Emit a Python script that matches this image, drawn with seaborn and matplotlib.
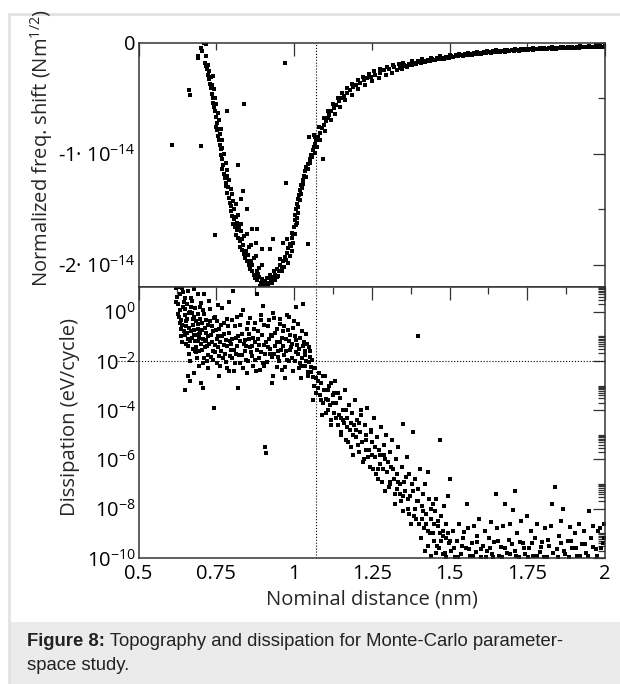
import numpy as np
import pandas as pd
import matplotlib
matplotlib.use("Agg")
import matplotlib.pyplot as plt
import matplotlib.ticker as mticker
from matplotlib.patches import Rectangle
from matplotlib.lines import Line2D
import seaborn as sns

# ---- верхняя панель: сдвиг частоты (в единицах 1e-14 Nm^1/2) ----
dip_x = [0.712, 0.716, 0.700, 0.690, 0.692, 0.714, 0.716, 0.720, 0.724, 0.728, 0.733, 0.738,
         0.730, 0.732, 0.736, 0.738, 0.740, 0.742, 0.745, 0.746, 0.748, 0.752, 0.750, 0.754,
         0.760, 0.766, 0.756, 0.758, 0.762, 0.764, 0.770, 0.766, 0.768, 0.772, 0.770, 0.776,
         0.778, 0.784, 0.780, 0.782, 0.788, 0.796, 0.786, 0.790, 0.794, 0.798, 0.804, 0.812,
         0.796, 0.800, 0.806, 0.812, 0.820, 0.804, 0.810, 0.816, 0.824, 0.830, 0.814, 0.820,
         0.826, 0.834, 0.840, 0.848, 0.826, 0.832, 0.838, 0.846, 0.854, 0.862, 0.842, 0.848,
         0.854, 0.862, 0.870, 0.878, 0.858, 0.866, 0.872, 0.880, 0.888, 0.896, 0.876, 0.882,
         0.888, 0.894, 0.898, 0.904, 0.908, 0.914, 0.918, 0.922, 0.926, 0.932, 0.936, 0.940,
         0.946, 0.952, 0.956, 0.960, 0.966, 0.970, 0.974, 0.978, 0.982, 0.986, 0.990, 0.994,
         0.997, 1.000, 1.002, 1.004, 1.008, 1.010, 1.013, 1.016, 1.020, 1.024, 1.028, 1.032,
         1.036, 1.040, 1.046, 1.050, 1.055, 1.060, 1.064, 1.068, 1.072, 1.078, 1.084, 1.090,
         1.096, 1.102, 1.108, 1.114, 1.120, 1.128, 1.136, 1.144, 1.152, 1.160, 1.170, 1.180,
         1.190, 1.200, 1.212, 1.224, 1.236, 1.248, 1.262, 1.276, 1.290, 1.305, 1.320,
         1.066, 1.080, 1.095, 1.110, 1.125, 1.140, 1.155, 1.170, 1.188, 1.205, 1.222, 1.240,
         1.258, 1.278, 1.298, 1.318, 1.338,
         0.705, 0.718, 0.722, 0.728, 0.735, 0.742, 0.748, 0.755, 0.760, 0.762, 0.770, 0.774,
         0.780, 0.786, 0.792, 0.800, 0.808, 0.818, 0.828, 0.836, 0.852, 0.866, 0.884, 0.892,
         0.900, 0.910, 0.916, 0.928, 0.938, 0.944, 0.950, 0.962, 0.968, 0.980, 0.988, 0.992,
         0.998, 1.004, 1.006, 1.010, 1.014, 1.018, 1.022, 1.026, 1.030, 1.038, 1.044, 1.052,
         1.058, 1.066, 1.074, 1.082, 1.100, 1.118, 1.132, 1.148, 1.165, 1.185, 1.205, 1.228,
         1.250, 1.272, 1.295, 1.315, 1.330]
dip_y = [0.00, -0.01, -0.05, -0.12, -0.14, -0.18, -0.21, -0.24, -0.29, -0.33, -0.31, -0.30,
         -0.37, -0.41, -0.46, -0.50, -0.54, -0.58, -0.50, -0.62, -0.67, -0.72, -0.76, -0.79,
         -0.78, -0.78, -0.84, -0.88, -0.92, -0.96, -0.95, -1.01, -1.05, -1.10, -1.14, -1.18,
         -1.22, -1.20, -1.26, -1.29, -1.30, -1.32, -1.35, -1.40, -1.44, -1.47, -1.43, -1.45,
         -1.52, -1.56, -1.59, -1.57, -1.55, -1.63, -1.66, -1.69, -1.66, -1.63, -1.73, -1.76,
         -1.79, -1.77, -1.74, -1.72, -1.84, -1.87, -1.90, -1.88, -1.84, -1.82, -1.94, -1.97,
         -2.00, -1.97, -1.94, -1.92, -2.04, -2.06, -2.09, -2.06, -2.03, -2.00, -2.12, -2.14,
         -2.11, -2.16, -2.13, -2.18, -2.15, -2.12, -2.16, -2.09, -2.13, -2.11, -2.06, -2.09,
         -2.04, -2.06, -2.00, -2.03, -1.97, -1.93, -1.96, -1.89, -1.85, -1.81, -1.83, -1.76,
         -1.72, -1.66, -1.60, -1.55, -1.50, -1.45, -1.41, -1.37, -1.33, -1.28, -1.24, -1.20,
         -1.16, -1.12, -1.09, -1.05, -1.01, -0.97, -0.94, -0.91, -0.88, -0.85, -0.81, -0.77,
         -0.74, -0.71, -0.68, -0.65, -0.62, -0.59, -0.56, -0.53, -0.50, -0.48, -0.45, -0.43,
         -0.40, -0.38, -0.36, -0.34, -0.32, -0.31, -0.29, -0.27, -0.25, -0.24, -0.22,
         -0.85, -0.76, -0.68, -0.62, -0.55, -0.50, -0.45, -0.41, -0.37, -0.34, -0.31, -0.28,
         -0.26, -0.24, -0.22, -0.20, -0.19,
         -0.08, -0.12, -0.20, -0.26, -0.38, -0.42, -0.55, -0.63, -0.70, -0.82, -0.88, -1.00,
         -1.08, -1.15, -1.24, -1.36, -1.50, -1.62, -1.70, -1.82, -1.91, -2.00, -2.08, -2.19,
         -2.20, -2.18, -2.19, -2.16, -2.14, -2.11, -2.10, -2.06, -2.02, -1.98, -1.92, -1.88,
         -1.80, -1.72, -1.64, -1.58, -1.48, -1.42, -1.36, -1.31, -1.27, -1.21, -1.14, -1.08,
         -1.03, -0.99, -0.94, -0.88, -0.80, -0.70, -0.64, -0.58, -0.52, -0.47, -0.42, -0.38,
         -0.35, -0.32, -0.29, -0.27, -0.25]

tail_x = [1.340, 1.355, 1.370, 1.385, 1.400, 1.415, 1.430, 1.445, 1.460, 1.475, 1.490, 1.505,
          1.520, 1.535, 1.550, 1.565, 1.580, 1.595, 1.610, 1.625, 1.640, 1.655, 1.670, 1.685,
          1.700, 1.715, 1.730, 1.745, 1.760, 1.775, 1.790, 1.805, 1.820, 1.835, 1.850, 1.865,
          1.880, 1.895, 1.910, 1.925, 1.940, 1.955, 1.970, 1.985, 2.000,
          1.348, 1.362, 1.378, 1.392, 1.408, 1.422, 1.438, 1.452, 1.468, 1.482, 1.498, 1.512,
          1.528, 1.542, 1.558, 1.572, 1.588, 1.602, 1.618, 1.632, 1.648, 1.662, 1.678, 1.692,
          1.708, 1.722, 1.738, 1.752, 1.768, 1.782, 1.798, 1.812, 1.828, 1.842, 1.858, 1.872,
          1.888, 1.902, 1.918, 1.932, 1.948, 1.962, 1.978, 1.992,
          1.350, 1.380, 1.410, 1.440, 1.470, 1.500, 1.530, 1.560, 1.590, 1.620, 1.650, 1.680,
          1.710, 1.740, 1.770, 1.800, 1.830, 1.860, 1.890, 1.920, 1.950, 1.980,
          1.344, 1.359, 1.374, 1.389, 1.404, 1.419, 1.434, 1.449, 1.464, 1.479, 1.494, 1.509,
          1.524, 1.539, 1.554, 1.569, 1.584, 1.599, 1.614, 1.629, 1.644, 1.659, 1.674, 1.689,
          1.704, 1.719, 1.734, 1.749, 1.764, 1.779, 1.794, 1.809, 1.824, 1.839, 1.854, 1.869,
          1.884, 1.899, 1.914, 1.929, 1.944, 1.959, 1.974, 1.989]
tail_y = [-0.21, -0.20, -0.19, -0.18, -0.17, -0.165, -0.155, -0.15, -0.14, -0.135, -0.13, -0.12,
          -0.115, -0.11, -0.105, -0.10, -0.095, -0.09, -0.087, -0.083, -0.08, -0.077, -0.073, -0.07,
          -0.067, -0.064, -0.062, -0.06, -0.057, -0.055, -0.053, -0.051, -0.049, -0.047, -0.046, -0.044,
          -0.043, -0.041, -0.04, -0.038, -0.037, -0.036, -0.035, -0.034, -0.033,
          -0.235, -0.22, -0.205, -0.195, -0.185, -0.175, -0.168, -0.16, -0.152, -0.145, -0.14, -0.132,
          -0.125, -0.12, -0.115, -0.11, -0.105, -0.10, -0.096, -0.092, -0.088, -0.085, -0.081, -0.078,
          -0.075, -0.072, -0.07, -0.068, -0.065, -0.062, -0.06, -0.058, -0.056, -0.054, -0.052, -0.05,
          -0.049, -0.047, -0.046, -0.044, -0.043, -0.042, -0.04, -0.039,
          -0.185, -0.17, -0.15, -0.14, -0.125, -0.11, -0.10, -0.092, -0.085, -0.078, -0.07, -0.064,
          -0.058, -0.054, -0.05, -0.046, -0.043, -0.04, -0.037, -0.034, -0.032, -0.03,
          -0.225, -0.21, -0.198, -0.19, -0.178, -0.17, -0.162, -0.155, -0.147, -0.14, -0.135, -0.127,
          -0.12, -0.115, -0.11, -0.105, -0.10, -0.096, -0.092, -0.088, -0.084, -0.08, -0.077, -0.074,
          -0.071, -0.068, -0.066, -0.064, -0.061, -0.059, -0.057, -0.055, -0.053, -0.051, -0.049, -0.048,
          -0.046, -0.045, -0.043, -0.042, -0.041, -0.04, -0.038, -0.037]

stray_x = [0.972, 0.662, 0.664, 0.700, 0.839, 0.785, 0.975, 0.746, 1.093, 1.045, 0.820, 0.607,
           0.836, 0.831, 0.848, 0.865, 0.880, 0.878, 0.897, 0.923, 0.932, 0.955, 0.965, 0.977,
           0.993, 1.013, 1.011, 1.048, 1.065]
stray_y = [-0.18, -0.43, -0.47, -0.93, -0.55, -0.62, -1.26, -1.73, -1.05, -1.81, -1.10, -0.92,
           -1.34, -1.41, -1.50, -1.68, -1.68, -1.80, -1.86, -1.86, -1.77, -1.95, -1.80, -1.77,
           -1.71, -1.53, -1.62, -0.85, -0.83]

# ---- нижняя панель: диссипация, log10(eV/cycle) ----
cloud_x = [0.620, 0.625, 0.628, 0.632, 0.630, 0.634, 0.638, 0.636, 0.640, 0.644, 0.646, 0.648,
           0.650, 0.652, 0.654, 0.656, 0.658, 0.660, 0.662, 0.664, 0.660, 0.666, 0.668, 0.670,
           0.672, 0.674, 0.676, 0.678, 0.680, 0.682, 0.684, 0.686, 0.688, 0.690, 0.692, 0.694,
           0.696, 0.698, 0.700, 0.702, 0.704, 0.706, 0.708, 0.710, 0.712, 0.714, 0.716, 0.718,
           0.720, 0.722, 0.724, 0.728, 0.730, 0.732, 0.736, 0.738, 0.740, 0.742, 0.746, 0.748,
           0.752, 0.756, 0.757, 0.760, 0.762, 0.766, 0.770, 0.774, 0.778, 0.782, 0.786, 0.790,
           0.794, 0.798, 0.802, 0.805, 0.806, 0.810, 0.814, 0.818, 0.820, 0.822, 0.826, 0.830,
           0.834, 0.838, 0.842, 0.846, 0.850, 0.852, 0.856, 0.860, 0.864, 0.868, 0.872, 0.876,
           0.880, 0.882, 0.886, 0.890, 0.894, 0.898, 0.900, 0.902, 0.906, 0.908, 0.910, 0.912,
           0.916, 0.920, 0.924, 0.928, 0.932, 0.936, 0.940, 0.944, 0.948, 0.952, 0.956, 0.960,
           0.964, 0.968, 0.972, 0.976, 0.980, 0.984, 0.988, 0.992, 0.996, 1.000, 1.004, 1.008,
           1.010, 1.014, 1.018, 1.022, 1.026, 1.030, 1.032, 1.036, 1.040, 1.044, 1.048, 1.052,
           1.056, 1.060, 1.064,
           0.640, 0.650, 0.655, 0.665, 0.670, 0.675, 0.685, 0.690, 0.695, 0.705, 0.710, 0.715,
           0.725, 0.735, 0.745, 0.755, 0.765, 0.775, 0.785, 0.795, 0.800, 0.815, 0.825, 0.835,
           0.845, 0.855, 0.865, 0.875, 0.885, 0.895, 0.905, 0.915, 0.925, 0.935, 0.945, 0.955,
           0.965, 0.975, 0.985, 0.995, 1.005, 1.015, 1.025, 1.035, 1.045, 0.680, 0.700, 0.760,
           0.790, 0.930, 0.970, 0.650, 0.630, 0.640, 0.660, 0.680, 0.690,
           0.622, 0.626, 0.633, 0.637, 0.642, 0.645, 0.649, 0.653, 0.657, 0.661, 0.663, 0.667,
           0.671, 0.673, 0.677, 0.681, 0.683, 0.687, 0.691, 0.693, 0.697, 0.699, 0.703, 0.707,
           0.709, 0.713, 0.717, 0.719, 0.723, 0.727, 0.731, 0.734, 0.739, 0.743, 0.747, 0.751,
           0.754, 0.758, 0.763, 0.767, 0.771, 0.776, 0.780, 0.784, 0.788, 0.792, 0.797, 0.801,
           0.807, 0.811, 0.816, 0.821, 0.827, 0.832, 0.837, 0.843, 0.848, 0.853, 0.858, 0.863,
           0.869, 0.874, 0.879, 0.884, 0.889, 0.893, 0.899, 0.904, 0.909, 0.914, 0.919, 0.923,
           0.929, 0.934, 0.939, 0.944, 0.950, 0.954, 0.959, 0.963, 0.969, 0.973, 0.978, 0.983,
           0.987, 0.991, 0.997, 1.002, 1.006, 1.012, 1.016, 1.020, 1.024, 1.029, 1.034, 1.038,
           1.042, 1.047, 1.051, 1.055, 1.059, 1.063]
cloud_log = [0.95, 0.60, 0.30, 0.05, -0.20, -0.45, -0.70, -1.00, -1.25, 0.80, 0.40, 0.10,
             -0.15, -0.40, -0.60, -0.85, -1.10, -1.40, -1.70, -2.00, -2.60, -2.80, 0.55, 0.20,
             -0.05, -0.30, -0.55, -0.75, -0.95, -1.20, -1.45, -1.65, -1.90, -0.50, -0.70, -0.90,
             -1.05, -0.30, 0.37, -1.30, -1.55, -2.10, -3.10, 0.70, -0.10, -0.65, -0.85, -1.15,
             -1.40, -1.75, -2.30, 0.45, -0.40, -0.95, -1.25, -1.60, -1.95, -3.90, -0.20, -0.75,
             -1.10, -1.45, 0.28, -1.80, -2.20, -0.55, -1.00, -1.35, -1.70, -2.05, -0.30, -0.85,
             -1.20, -1.55, -1.90, 0.85, -2.40, -0.60, -1.05, -1.40, -3.10, -1.75, -2.10, -0.15,
             -0.90, -1.30, -1.60, -1.95, -2.50, -0.45, -1.10, -1.45, -1.80, -2.20, -0.70, -1.25,
             0.73, -1.55, -1.90, -2.35, -0.35, -0.95, 0.24, -1.35, -1.70, -5.50, -5.75, -2.05,
             -0.60, -1.10, -1.50, -1.85, -2.60, -0.25, -0.85, -1.25, -1.60, -2.00, -0.50, -1.05,
             -1.40, -1.75, -2.25, -0.15, -0.75, -1.20, -1.55, -1.90, -2.40, -0.40, -1.00, 0.17,
             -1.35, -1.70, -2.10, -2.70, -0.80, 0.33, -1.25, -1.60, -2.00, -2.45, -1.45, -1.85,
             -2.25, -2.65, -3.00,
             -0.55, -0.95, -0.30, -1.20, -0.80, -1.50, -0.40, -1.20, -1.60, -0.75, -1.90, -1.20,
             -1.00, -0.60, -1.35, -1.00, -1.60, -0.90, -1.40, -1.80, -1.10, -1.70, -1.20, -2.30,
             -1.40, -0.90, -1.40, -1.95, -1.10, -1.65, -2.20, -1.45, -0.95, -1.70, -2.25, -1.25,
             -0.80, -1.60, -2.00, -1.30, -1.65, -2.30, -1.90, -2.20, -2.60, -2.50, -2.90, -2.60,
             -2.40, -2.90, -2.70, -3.20, 1.00, 0.95, 0.85, 0.90, 0.70,
             0.40, -0.10, 0.70, -0.35, 0.20, -0.80, 0.55, -1.30, 0.30, -0.05, -0.65, 0.00,
             -1.05, 0.45, -0.20, -1.60, 0.15, -0.95, -0.10, -2.20, 0.20, -0.85, -0.45, -1.10,
             0.05, -1.45, -0.35, -2.00, -0.55, -1.30, 0.10, -1.85, -0.80, -0.25, -1.65, -0.40,
             -2.10, -0.70, -1.25, 0.15, -1.90, -0.45, -1.15, -2.30, -0.60, 0.40, -1.30, -0.35,
             -1.55, -2.10, -0.20, -1.00, -0.55, -1.75, 0.05, -1.15, -0.70, -2.00, -0.25, -1.65,
             -1.05, -0.45, -2.40, -0.80, -1.35, -0.15, -2.10, -0.55, -1.25, -2.05, -0.35, -1.70,
             -1.00, -0.05, -1.40, -0.70, -1.85, -0.30, -1.55, -2.35, -0.60, -1.10, -1.95, -0.20,
             -0.95, -1.45, -0.65, -2.00, -1.15, -0.50, -1.50, -1.05, -2.20, -1.40, -1.75, -0.90,
             -1.30, -2.05, -1.60, -2.45, -1.95, -2.30]

band_x = [1.068, 1.072, 1.076, 1.080, 1.084, 1.088, 1.092, 1.096, 1.100, 1.104, 1.108, 1.112,
          1.116, 1.120, 1.124, 1.128, 1.132, 1.136, 1.140, 1.144, 1.148, 1.152, 1.156, 1.160,
          1.164, 1.168, 1.172, 1.176, 1.180, 1.184, 1.188, 1.192, 1.196, 1.200, 1.204, 1.208,
          1.212, 1.216, 1.220, 1.224, 1.228, 1.232, 1.236, 1.240, 1.244, 1.248, 1.252, 1.256,
          1.260, 1.264, 1.268, 1.272, 1.276, 1.280, 1.284, 1.288, 1.292, 1.296, 1.300, 1.304,
          1.308, 1.312, 1.316, 1.320, 1.324, 1.328, 1.332, 1.336, 1.340, 1.344, 1.348, 1.350,
          1.354, 1.358, 1.362, 1.366, 1.370, 1.374, 1.378, 1.383, 1.386, 1.390, 1.394, 1.398,
          1.402, 1.406, 1.410, 1.414, 1.418, 1.422, 1.426, 1.430, 1.434, 1.438, 1.442, 1.446,
          1.450, 1.454, 1.458, 1.462, 1.466, 1.470, 1.474, 1.478, 1.482, 1.486, 1.490, 1.494,
          1.498, 1.500,
          1.110, 1.130, 1.150, 1.170, 1.190, 1.210, 1.230, 1.250, 1.270, 1.290, 1.310, 1.330,
          1.350, 1.370, 1.390, 1.410, 1.430, 1.450, 1.470, 1.490, 1.400, 1.060, 1.090, 1.120,
          1.070, 1.078, 1.086, 1.094, 1.102, 1.110, 1.118, 1.126, 1.134, 1.142, 1.150, 1.158,
          1.166, 1.174, 1.182, 1.190, 1.198, 1.206, 1.214, 1.222, 1.230, 1.238, 1.246, 1.254,
          1.262, 1.270, 1.278, 1.286, 1.294, 1.302, 1.310, 1.318, 1.326, 1.334, 1.342, 1.352,
          1.360, 1.368, 1.376, 1.384, 1.392, 1.400, 1.408, 1.416, 1.424, 1.432, 1.440, 1.448,
          1.456, 1.464, 1.472, 1.480, 1.488, 1.496]
band_log = [-2.30, -2.70, -3.10, -2.50, -3.40, -2.90, -3.70, -3.20, -2.60, -3.55, -4.00, -3.00,
            -3.80, -4.40, -3.40, -4.10, -2.80, -3.70, -4.60, -4.20, -3.50, -4.90, -4.00, -4.50,
            -3.20, -5.20, -4.30, -3.80, -4.80, -5.50, -4.10, -4.60, -3.60, -5.10, -4.40, -5.70,
            -4.90, -4.00, -5.30, -6.00, -4.60, -5.00, -3.90, -5.60, -6.30, -4.80, -5.30, -4.30,
            -5.90, -6.60, -5.10, -5.60, -6.20, -4.70, -6.90, -5.40, -6.00, -5.00, -6.50, -7.10,
            -5.70, -6.30, -5.20, -6.80, -7.40, -6.00, -6.60, -5.50, -7.00, -7.70, -6.30, -4.55,
            -6.90, -7.30, -5.90, -8.00, -6.60, -7.50, -7.00, -4.90, -8.30, -6.80, -7.70, -7.20,
            -8.60, -6.40, -7.90, -7.40, -8.80, -7.00, -8.20, -6.50, -7.60, -9.00, -8.40, -7.80,
            -9.30, -8.10, -7.60, -8.70, -9.60, -5.20, -8.30, -9.10, -7.90, -9.80, -8.60, -7.50,
            -9.40, -6.80,
            -3.60, -3.30, -4.30, -4.70, -5.00, -4.50, -5.60, -5.80, -6.40, -5.80, -6.90, -7.20,
            -7.50, -8.20, -8.00, -8.40, -8.90, -8.60, -9.00, -9.20, -1.00, -3.60, -4.20, -2.90,
            -3.30, -2.80, -3.60, -2.60, -4.10, -3.20, -4.60, -3.70, -4.30, -3.30, -5.00, -4.40,
            -4.00, -5.30, -4.50, -5.80, -4.80, -5.40, -4.20, -6.10, -5.20, -5.90, -4.90, -6.40,
            -5.50, -6.80, -5.80, -6.40, -7.30, -6.10, -7.00, -6.40, -7.80, -6.90, -7.40, -8.10,
            -6.70, -7.60, -8.60, -7.30, -8.40, -7.70, -9.20, -8.10, -8.60, -9.50, -8.00, -9.00,
            -9.80, -8.50, -9.30, -8.90, -9.95, -9.00]

floor_x = [1.505, 1.512, 1.518, 1.525, 1.532, 1.538, 1.545, 1.552, 1.555, 1.560, 1.566, 1.572,
           1.578, 1.585, 1.590, 1.596, 1.602, 1.608, 1.614, 1.620, 1.626, 1.632, 1.638, 1.644,
           1.650, 1.654, 1.660, 1.666, 1.672, 1.680, 1.684, 1.690, 1.696, 1.705, 1.710, 1.712,
           1.718, 1.724, 1.730, 1.736, 1.742, 1.750, 1.756, 1.762, 1.768, 1.775, 1.782, 1.790,
           1.798, 1.806, 1.812, 1.820, 1.826, 1.830, 1.840, 1.846, 1.852, 1.860, 1.865, 1.872,
           1.880, 1.888, 1.895, 1.902, 1.910, 1.918, 1.925, 1.932, 1.940, 1.950, 1.956, 1.962,
           1.970, 1.978, 1.985, 1.992, 1.998, 1.420, 1.440, 1.460, 1.480,
           1.503, 1.515, 1.528, 1.541, 1.548, 1.563, 1.575, 1.588, 1.600, 1.617, 1.630, 1.641,
           1.657, 1.669, 1.677, 1.693, 1.702, 1.715, 1.727, 1.740, 1.753, 1.766, 1.780, 1.793,
           1.803, 1.816, 1.833, 1.849, 1.857, 1.869, 1.884, 1.892, 1.906, 1.921, 1.936, 1.946,
           1.960, 1.975, 1.988, 1.996]
floor_log = [-9.70, -8.90, -9.95, -9.30, -8.60, -9.85, -9.20, -9.60, -7.80, -8.80, -9.90, -9.40,
             -8.70, -9.75, -9.10, -8.40, -9.95, -9.50, -8.90, -9.70, -9.20, -8.55, -9.85, -9.35,
             -7.40, -8.80, -9.90, -9.55, -8.70, -7.80, -9.80, -9.25, -8.60, -8.05, -7.30, -9.70,
             -9.00, -9.95, -8.50, -9.40, -9.85, -8.30, -9.60, -8.90, -9.90, -9.20, -8.60, -9.75,
             -9.35, -8.80, -9.95, -9.50, -8.70, -7.80, -7.10, -9.65, -9.10, -8.50, -8.00, -9.85,
             -9.30, -8.75, -9.60, -9.00, -9.90, -8.60, -9.45, -8.90, -9.80, -8.10, -9.20, -8.70,
             -9.65, -8.90, -8.80, -9.40, -8.60, -9.70, -9.90, -9.50, -9.85,
             -9.30, -9.60, -9.95, -9.50, -8.95, -9.65, -9.90, -9.35, -9.65, -9.95, -9.60, -9.95,
             -9.30, -9.95, -9.60, -9.85, -9.45, -9.90, -9.35, -9.60, -9.95, -9.40, -9.90, -9.55,
             -9.95, -9.25, -9.80, -9.95, -9.40, -9.70, -9.95, -9.30, -9.60, -9.90, -9.45, -9.90,
             -9.55, -9.90, -9.60, -9.20]

x_ticks = [0.5, 0.75, 1, 1.25, 1.5, 1.75, 2]
top_ticks = [-2e-14, -1e-14, 0]
top_tick_labels = ['-2· 10$^{-14}$', '-1· 10$^{-14}$', '0']
bottom_ticks = [1e-10, 1e-8, 1e-6, 1e-4, 1e-2, 1e0]
bottom_tick_labels = ['10$^{-10}$', '10$^{-8}$', '10$^{-6}$', '10$^{-4}$', '10$^{-2}$', '10$^{0}$']
x_marker = 1.07
diss_marker = 1e-2

freq = pd.DataFrame({'x': dip_x + tail_x + stray_x,
                     'y': np.array(dip_y + tail_y + stray_y) * 1e-14})
diss = pd.DataFrame({'x': cloud_x + band_x + floor_x,
                     'y': 10.0 ** np.array(cloud_log + band_log + floor_log)})

sns.set_theme(style="white")
plt.rcParams['font.family'] = ['Open Sans', 'DejaVu Sans']
plt.rcParams['mathtext.fontset'] = 'custom'
plt.rcParams['mathtext.rm'] = 'Open Sans'
plt.rcParams['mathtext.it'] = 'Open Sans:italic'
plt.rcParams['mathtext.bf'] = 'Open Sans:bold'
plt.rcParams['mathtext.default'] = 'regular'

W, H = 620, 684
fig = plt.figure(figsize=(W / 100, H / 100), dpi=100)
fig.patch.set_facecolor('white')

left, right = 138.5 / W, 605 / W
ax1 = fig.add_axes([left, 1 - 287 / H, right - left, (287 - 42.5) / H])
ax2 = fig.add_axes([left, 1 - 558 / H, right - left, (558 - 287) / H])

sns.scatterplot(data=freq, x='x', y='y', ax=ax1, marker='s', s=5, color='black',
                linewidth=0, legend=False)
sns.scatterplot(data=diss, x='x', y='y', ax=ax2, marker='s', s=5, color='black',
                linewidth=0, legend=False)

spine_col = '#333333'
for ax in (ax1, ax2):
    ax.set_xlim(0.5, 2)
    ax.set_xlabel('')
    ax.set_ylabel('')
    for sp in ax.spines.values():
        sp.set_color(spine_col)
        sp.set_linewidth(1.1)
    ax.tick_params(which='both', direction='in', top=True, right=True, colors=spine_col,
                   labelcolor='black', labelsize=14.5, pad=2, width=0.9)
    ax.tick_params(which='major', length=9)
    ax.tick_params(which='minor', length=5)
    ax.axvline(x_marker, color='black', linestyle=':', linewidth=0.8)

# верхняя панель
ax1.set_ylim(-2.2e-14, 0)
ax1.set_yticks(top_ticks)
ax1.set_yticklabels(top_tick_labels)
ax1.yaxis.set_minor_locator(mticker.FixedLocator([-1.5e-14, -0.5e-14]))
ax1.xaxis.set_major_locator(mticker.MultipleLocator(0.5))
ax1.xaxis.set_minor_locator(mticker.MultipleLocator(0.25))
ax1.tick_params(axis='x', labelbottom=False)

# нижняя панель
ax2.set_yscale('log')
ax2.set_ylim(1e-10, 1e1)
ax2.set_yticks(bottom_ticks)
ax2.set_yticklabels(bottom_tick_labels)
minor = [k * 10.0 ** e for e in range(-10, 1, 2) for k in range(2, 11)]
ax2.yaxis.set_minor_locator(mticker.FixedLocator(minor))
ax2.yaxis.set_minor_formatter(mticker.NullFormatter())
ax2.set_xticks(x_ticks)
ax2.set_xticklabels([f'{v:g}' for v in x_ticks])
ax2.xaxis.set_minor_locator(mticker.MultipleLocator(0.125))
ax2.tick_params(axis='x', which='major', pad=4)
ax2.axhline(diss_marker, xmin=-0.045, xmax=1, color='black', linestyle=':',
            linewidth=0.8, clip_on=False)

fig.text(42 / W, 1 - 148 / H, 'Normalized freq. shift (Nm$^{1/2}$)', rotation=90,
         ha='center', va='center', fontsize=14.5)
fig.text(70 / W, 1 - 417 / H, 'Dissipation (eV/cycle)', rotation=90,
         ha='center', va='center', fontsize=14.5)
fig.text(372 / W, 1 - 599 / H, 'Nominal distance (nm)', ha='center', va='center',
         fontsize=14.5)

# рамка и подпись
fig.add_artist(Line2D([9 / W, 1], [1 - 14 / H, 1 - 14 / H], transform=fig.transFigure,
                      color='#e2e2e2', linewidth=2))
fig.add_artist(Line2D([9 / W, 9 / W], [0, 1 - 14 / H], transform=fig.transFigure,
                      color='#e2e2e2', linewidth=2))
fig.add_artist(Rectangle((9 / W, 0), 1 - 9 / W, (H - 622) / H, transform=fig.transFigure,
                         facecolor='#ebebeb', edgecolor='none', zorder=-1))

cap_font = ['Liberation Sans', 'DejaVu Sans']
t1 = fig.text(27 / W, 1 - 641 / H, 'Figure 8:', fontsize=13.3, fontweight='bold',
              family=cap_font, ha='left', va='center', color='#222222')
renderer = fig.canvas.get_renderer()
bb = t1.get_window_extent(renderer)
fig.text(bb.x1 / W, 1 - 641 / H, ' Topography and dissipation for Monte-Carlo parameter-',
         fontsize=13.3, family=cap_font, ha='left', va='center', color='#222222')
fig.text(27 / W, 1 - 665 / H, 'space study.', fontsize=13.3, family=cap_font,
         ha='left', va='center', color='#222222')

fig.savefig('out.png', dpi=100)
